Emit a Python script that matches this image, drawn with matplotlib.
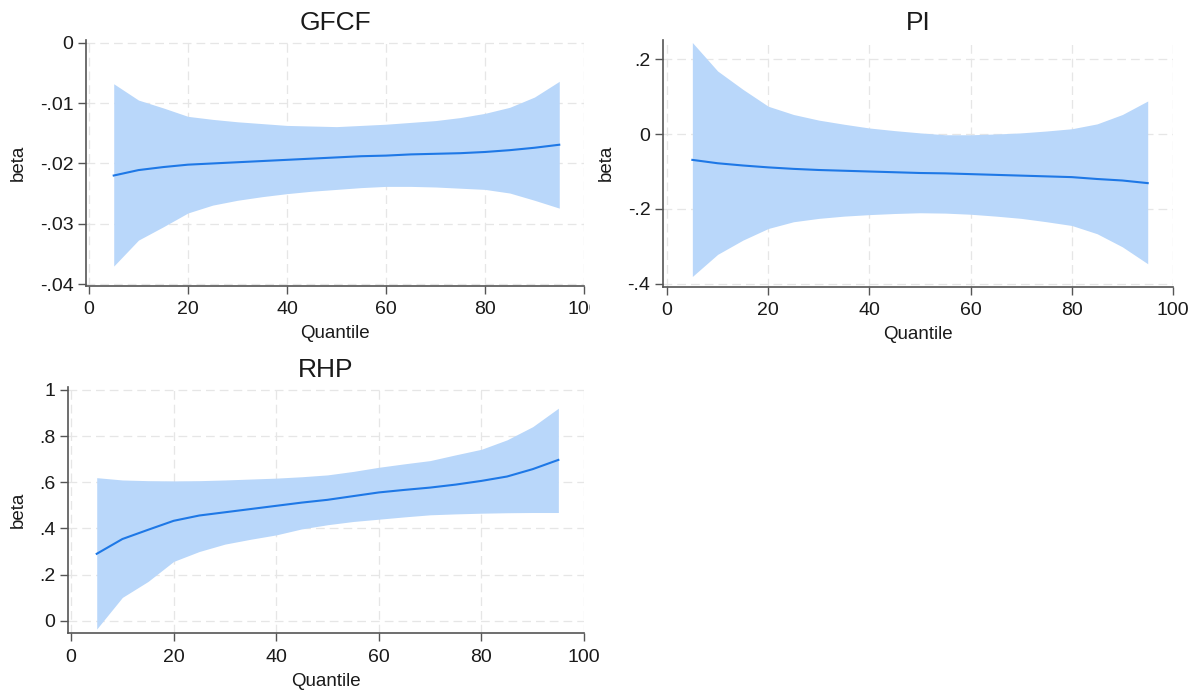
import matplotlib
matplotlib.use("Agg")
import matplotlib.pyplot as plt
from matplotlib.patches import Rectangle

plt.rcParams['font.family'] = ['Liberation Sans', 'DejaVu Sans']

quantiles = [5, 10, 15, 20, 25, 30, 35, 40, 45, 50, 55, 60, 65, 70, 75, 80, 85, 90, 95]

gfcf_beta = [-0.0220, -0.0211, -0.0206, -0.0202, -0.0200, -0.0198, -0.0196, -0.0194,
             -0.0192, -0.0190, -0.0188, -0.0187, -0.0185, -0.0184, -0.0183, -0.0181,
             -0.0178, -0.0174, -0.0169]
gfcf_upper = [-0.0068, -0.0095, -0.0108, -0.0122, -0.0127, -0.0131, -0.0134, -0.0137,
              -0.0138, -0.0139, -0.0137, -0.0135, -0.0132, -0.0129, -0.0124, -0.0117,
              -0.0107, -0.0090, -0.0064]
gfcf_lower = [-0.0370, -0.0327, -0.0305, -0.0282, -0.0269, -0.0261, -0.0255, -0.0250,
              -0.0246, -0.0243, -0.0240, -0.0238, -0.0238, -0.0239, -0.0241, -0.0243,
              -0.0249, -0.0261, -0.0274]

pi_beta = [-0.069, -0.078, -0.084, -0.089, -0.093, -0.096, -0.098, -0.100, -0.102,
           -0.104, -0.105, -0.107, -0.109, -0.111, -0.113, -0.115, -0.120, -0.124, -0.131]
pi_upper = [0.244, 0.168, 0.119, 0.074, 0.052, 0.037, 0.026, 0.016, 0.009, 0.003,
            -0.002, -0.002, 0.000, 0.003, 0.008, 0.014, 0.027, 0.052, 0.088]
pi_lower = [-0.380, -0.321, -0.283, -0.252, -0.234, -0.225, -0.219, -0.215, -0.212,
            -0.210, -0.211, -0.214, -0.219, -0.225, -0.234, -0.244, -0.266, -0.301, -0.346]

rhp_beta = [0.290, 0.354, 0.394, 0.433, 0.456, 0.470, 0.484, 0.498, 0.512, 0.524,
            0.540, 0.556, 0.567, 0.577, 0.590, 0.606, 0.625, 0.657, 0.697]
rhp_upper = [0.620, 0.610, 0.607, 0.606, 0.607, 0.610, 0.614, 0.618, 0.624, 0.632,
             0.647, 0.665, 0.680, 0.694, 0.719, 0.743, 0.784, 0.841, 0.921]
rhp_lower = [-0.036, 0.101, 0.170, 0.257, 0.300, 0.332, 0.353, 0.372, 0.398, 0.416,
             0.430, 0.440, 0.450, 0.459, 0.463, 0.466, 0.468, 0.469, 0.469]

x_ticks = [0, 20, 40, 60, 80, 100]
x_ticklabels = ["0", "20", "40", "60", "80", "100"]
gfcf_yticks = [0, -0.01, -0.02, -0.03, -0.04]
gfcf_yticklabels = ["0", "-.01", "-.02", "-.03", "-.04"]
pi_yticks = [0.2, 0, -0.2, -0.4]
pi_yticklabels = [".2", "0", "-.2", "-.4"]
rhp_yticks = [1, 0.8, 0.6, 0.4, 0.2, 0]
rhp_yticklabels = ["1", ".8", ".6", ".4", ".2", "0"]

W, H = 1200, 691
fig = plt.figure(figsize=(12, 6.91), dpi=100)

def box(x0, y0, x1, y1):
    return [x0 / W, 1 - y1 / H, (x1 - x0) / W, (y1 - y0) / H]

LINE = '#1e78e6'
FILL = '#b9d7fa'
SPINE = '#555555'
TXT = '#1a1a1a'

def panel(rect, title, beta, up, lo, yticks, ylabels, xlim, ylim):
    ax = fig.add_axes(rect)
    ax.fill_between(quantiles, lo, up, color=FILL, linewidth=0, zorder=2)
    ax.plot(quantiles, beta, color=LINE, linewidth=1.5, zorder=3)
    ax.set_xlim(*xlim)
    ax.set_ylim(*ylim)
    ax.set_xticks(x_ticks)
    ax.set_xticklabels(x_ticklabels)
    ax.set_yticks(yticks)
    ax.set_yticklabels(ylabels)
    ax.grid(True, color='#e6e6e6', linestyle=(0, (7, 4)), linewidth=0.9, zorder=1)
    ax.set_axisbelow(True)
    for s in ['top', 'right']:
        ax.spines[s].set_visible(False)
    for s in ['left', 'bottom']:
        ax.spines[s].set_color(SPINE)
        ax.spines[s].set_linewidth(1.2)
    ax.tick_params(direction='out', length=6, width=1, color=SPINE,
                   labelsize=14, labelcolor=TXT)
    ax.tick_params(axis='x', pad=5)
    ax.tick_params(axis='y', pad=3)
    ax.set_title(title, fontsize=19, pad=7, color=TXT)
    ax.set_xlabel('Quantile', fontsize=13.5, labelpad=5, color=TXT)
    ax.set_ylabel('beta', fontsize=13.5, labelpad=9, color=TXT)
    return ax

panel(box(86, 40, 584, 286), 'GFCF', gfcf_beta, gfcf_upper, gfcf_lower,
      gfcf_yticks, gfcf_yticklabels, (-0.6, 100), (-0.0403, 0.00045))
panel(box(663, 40, 1173, 286.5), 'PI', pi_beta, pi_upper, pi_lower,
      pi_yticks, pi_yticklabels, (-0.8, 100), (-0.4067, 0.2507))
panel(box(68, 387, 584, 633.3), 'RHP', rhp_beta, rhp_upper, rhp_lower,
      rhp_yticks, rhp_yticklabels, (-0.6, 100), (-0.0546, 1.013))

# the original composite crops the left panel's last tick label
fig.add_artist(Rectangle((590 / W, 1 - 325 / H), 10 / W, 30 / H,
                         transform=fig.transFigure, facecolor='white',
                         edgecolor='none', zorder=10))

fig.savefig('out.png', dpi=100, facecolor='white')
